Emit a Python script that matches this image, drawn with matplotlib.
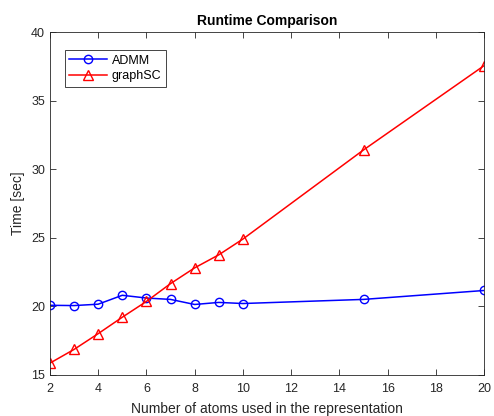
import matplotlib
matplotlib.use("Agg")
import matplotlib.pyplot as plt

plt.rcParams["font.family"] = ["Liberation Sans", "DejaVu Sans"]

atoms = [2, 3, 4, 5, 6, 7, 8, 9, 10, 15, 20]
admm_time = [20.07, 20.05, 20.15, 20.8, 20.6, 20.5, 20.13, 20.28, 20.2, 20.5, 21.15]
graphsc_time = [15.85, 16.85, 18.0, 19.2, 20.35, 21.65, 22.8, 23.75, 24.9, 31.4, 37.55]

x_ticks = [2, 4, 6, 8, 10, 12, 14, 16, 18, 20]
y_ticks = [15, 20, 25, 30, 35, 40]

axis_color = "#262626"

fig = plt.figure(figsize=(4.94, 4.16), dpi=100)
ax = fig.add_axes([0.101, 0.099, 0.879, 0.824])

ax.plot(atoms, admm_time, color="#0000ff", marker="o", markersize=6,
        markerfacecolor="none", markeredgewidth=1.0, linewidth=1.1, label="ADMM")
ax.plot(atoms, graphsc_time, color="#ff0000", marker="^", markersize=7,
        markerfacecolor="none", markeredgewidth=1.0, linewidth=1.1, label="graphSC")

ax.set_xlim(2, 20)
ax.set_ylim(15, 40)
ax.set_xticks(x_ticks)
ax.set_yticks(y_ticks)
ax.tick_params(direction="in", top=True, right=True, length=4, width=0.6,
               labelsize=9, colors=axis_color, labelcolor=axis_color)
ax.tick_params(axis="x", pad=6)
for spine in ax.spines.values():
    spine.set_color(axis_color)
    spine.set_linewidth(0.6)

ax.set_title("Runtime Comparison", fontsize=10, fontweight="bold", color="black", pad=5)
ax.set_xlabel("Number of atoms used in the representation", fontsize=10, color=axis_color, labelpad=5)
ax.set_ylabel("Time [sec]", fontsize=10, color=axis_color, labelpad=4)

leg = ax.legend(loc="upper left", bbox_to_anchor=(0.02, 0.965), fontsize=9,
                fancybox=False, framealpha=1, edgecolor=axis_color,
                handlelength=3.0, borderpad=0.35, labelspacing=0.3, handletextpad=0.4)
leg.get_frame().set_linewidth(0.6)

fig.savefig("out.png", dpi=100)
